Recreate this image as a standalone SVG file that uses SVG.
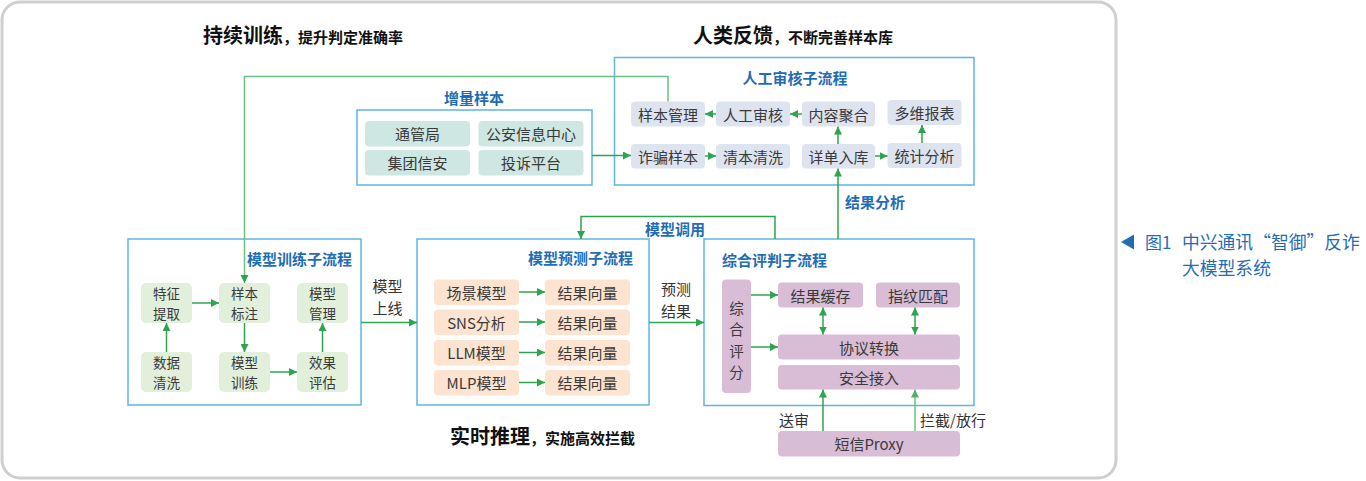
<svg xmlns="http://www.w3.org/2000/svg" width="1366" height="481" viewBox="0 0 1366 481">
<style>
text{font-family:"Noto Sans CJK SC","Noto Sans",sans-serif}
.frame{fill:#fff;stroke:#5db6e3;stroke-width:1.5}
.tr{fill:#e2efda}
.inc{fill:#cfe7e3}
.rev{fill:#dde3ef}
.pre{fill:#fce4d1}
.ev{fill:#d9bdd6}
.nt{font-size:15px;fill:#3a3a3a;text-anchor:middle;dominant-baseline:central}
.nt2{font-size:13.5px;fill:#3a3a3a;text-anchor:middle;dominant-baseline:central}
.nt3{font-size:14.5px;fill:#3a3a3a;text-anchor:middle;dominant-baseline:central}
.st{font-size:15px;font-weight:bold;fill:#1f6db5;dominant-baseline:central}
.lb{font-size:15px;fill:#333;dominant-baseline:central}
.big{font-weight:bold;fill:#111}
.c{fill:none;stroke:#2ea44f;stroke-width:1.5}
.cl{fill:none;stroke:#6cc083;stroke-width:1.5}
</style>
<defs>
<marker id="ah" viewBox="0 0 10 10" refX="10" refY="5" markerWidth="8" markerHeight="8" markerUnits="userSpaceOnUse" orient="auto-start-reverse"><path d="M0,0 L10,5 L0,10 z" fill="#2ea44f"/></marker>
<marker id="ahl" viewBox="0 0 10 10" refX="10" refY="5" markerWidth="8" markerHeight="8" markerUnits="userSpaceOnUse" orient="auto-start-reverse"><path d="M0,0 L10,5 L0,10 z" fill="#4fb269"/></marker>
</defs>
<rect x="2" y="2" width="1114" height="476" rx="18" fill="#fff" stroke="#cfcfcf" stroke-width="3"/>

<g id="titles">
<text x="203" y="43" class="big"><tspan font-size="20">持续训练</tspan><tspan font-size="15">，提升判定准确率</tspan></text>
<text x="693" y="43" class="big"><tspan font-size="20">人类反馈</tspan><tspan font-size="15">，不断完善样本库</tspan></text>
<text x="450" y="444" class="big"><tspan font-size="20">实时推理</tspan><tspan font-size="15">，实施高效拦截</tspan></text>
</g>

<g id="train-frame"><rect class="frame" x="128" y="239" width="233" height="166"/><text class="st" x="352" y="258" text-anchor="end">模型训练子流程</text></g>
<g id="pred-frame"><rect class="frame" x="417" y="239" width="232" height="166"/><text class="st" x="633" y="257" text-anchor="end">模型预测子流程</text></g>
<g id="eval-frame"><rect class="frame" x="704" y="239" width="270" height="166.5"/><text class="st" x="722" y="259">综合评判子流程</text></g>
<g id="inc-frame"><rect class="frame" x="357" y="110" width="235" height="75"/><text class="st" x="474" y="97" text-anchor="middle">增量样本</text></g>
<g id="rev-frame"><rect class="frame" x="614.5" y="57.5" width="359.5" height="127.5"/><text class="st" x="795" y="77" text-anchor="middle">人工审核子流程</text></g>

<g id="n-tezheng"><rect class="tr" x="141" y="283" width="51" height="40" rx="5"/><text class="nt2"><tspan x="166.5" y="293.2">特征</tspan><tspan x="166.5" y="312.8">提取</tspan></text></g>
<g id="n-biaozhu"><rect class="tr" x="219" y="283" width="51" height="40" rx="5"/><text class="nt2"><tspan x="244.5" y="293.2">样本</tspan><tspan x="244.5" y="312.8">标注</tspan></text></g>
<g id="n-guanli"><rect class="tr" x="297" y="283" width="51" height="40" rx="5"/><text class="nt2"><tspan x="322.5" y="293.2">模型</tspan><tspan x="322.5" y="312.8">管理</tspan></text></g>
<g id="n-qingxi"><rect class="tr" x="141" y="352" width="51" height="40" rx="5"/><text class="nt2"><tspan x="166.5" y="362.2">数据</tspan><tspan x="166.5" y="381.8">清洗</tspan></text></g>
<g id="n-xunlian"><rect class="tr" x="219" y="352" width="51" height="40" rx="5"/><text class="nt2"><tspan x="244.5" y="362.2">模型</tspan><tspan x="244.5" y="381.8">训练</tspan></text></g>
<g id="n-pinggu"><rect class="tr" x="297" y="352" width="51" height="40" rx="5"/><text class="nt2"><tspan x="322.5" y="362.2">效果</tspan><tspan x="322.5" y="381.8">评估</tspan></text></g>

<g id="n-tongguanju"><rect class="inc" x="365" y="121" width="105" height="25.5" rx="4"/><text class="nt" x="417.5" y="133.5">通管局</text></g>
<g id="n-gongan"><rect class="inc" x="478.5" y="121" width="105" height="25.5" rx="4"/><text class="nt" x="531" y="133.5">公安信息中心</text></g>
<g id="n-jituan"><rect class="inc" x="365" y="150" width="105" height="25.5" rx="4"/><text class="nt" x="417.5" y="162.5">集团信安</text></g>
<g id="n-tousu"><rect class="inc" x="478.5" y="150" width="105" height="25.5" rx="4"/><text class="nt" x="531" y="162.5">投诉平台</text></g>

<g id="n-ybgl"><rect class="rev" x="631" y="101.5" width="74" height="25" rx="4"/><text class="nt" x="668" y="114">样本管理</text></g>
<g id="n-rgsh"><rect class="rev" x="716" y="101.5" width="74" height="25" rx="4"/><text class="nt" x="753" y="114">人工审核</text></g>
<g id="n-nrjh"><rect class="rev" x="802" y="101.5" width="73" height="25" rx="4"/><text class="nt" x="838.5" y="114">内容聚合</text></g>
<g id="n-dwbb"><rect class="rev" x="887.5" y="100" width="74" height="25" rx="4"/><text class="nt" x="924.5" y="112.5">多维报表</text></g>
<g id="n-zpyb"><rect class="rev" x="631" y="144" width="74" height="24.5" rx="4"/><text class="nt" x="668" y="156">诈骗样本</text></g>
<g id="n-qbqx"><rect class="rev" x="716" y="144" width="74" height="24.5" rx="4"/><text class="nt" x="753" y="156">清本清洗</text></g>
<g id="n-xdrk"><rect class="rev" x="802" y="144" width="73" height="24.5" rx="4"/><text class="nt" x="838.5" y="156">详单入库</text></g>
<g id="n-tjfx"><rect class="rev" x="887.5" y="143" width="74" height="25" rx="4"/><text class="nt" x="924.5" y="155.5">统计分析</text></g>

<g id="n-cjmx"><rect class="pre" x="434" y="279.5" width="85" height="25.5" rx="4"/><text class="nt" x="476.5" y="292">场景模型</text></g>
<g id="n-sns"><rect class="pre" x="434" y="309.5" width="85" height="25.5" rx="4"/><text class="nt" x="476.5" y="322">SNS分析</text></g>
<g id="n-llm"><rect class="pre" x="434" y="340" width="85" height="25.5" rx="4"/><text class="nt" x="476.5" y="352.5">LLM模型</text></g>
<g id="n-mlp"><rect class="pre" x="434" y="370" width="85" height="25.5" rx="4"/><text class="nt" x="476.5" y="382.5">MLP模型</text></g>
<g id="n-v1"><rect class="pre" x="545" y="279.5" width="85" height="25.5" rx="4"/><text class="nt" x="587.5" y="292">结果向量</text></g>
<g id="n-v2"><rect class="pre" x="545" y="309.5" width="85" height="25.5" rx="4"/><text class="nt" x="587.5" y="322">结果向量</text></g>
<g id="n-v3"><rect class="pre" x="545" y="340" width="85" height="25.5" rx="4"/><text class="nt" x="587.5" y="352.5">结果向量</text></g>
<g id="n-v4"><rect class="pre" x="545" y="370" width="85" height="25.5" rx="4"/><text class="nt" x="587.5" y="382.5">结果向量</text></g>

<g id="n-zhpf"><rect class="ev" x="722" y="279.5" width="29" height="113.5" rx="4"/><text class="nt3"><tspan x="736.5" y="307.2">综</tspan><tspan x="736.5" y="328.4">合</tspan><tspan x="736.5" y="349.6">评</tspan><tspan x="736.5" y="370.8">分</tspan></text></g>
<g id="n-jghc"><rect class="ev" x="778" y="282.5" width="85" height="25" rx="4"/><text class="nt" x="820.5" y="295">结果缓存</text></g>
<g id="n-zwpp"><rect class="ev" x="876" y="282.5" width="84" height="25" rx="4"/><text class="nt" x="918" y="295">指纹匹配</text></g>
<g id="n-xyzh"><rect class="ev" x="778" y="334.5" width="182" height="25" rx="4"/><text class="nt" x="869" y="347">协议转换</text></g>
<g id="n-aqjr"><rect class="ev" x="778" y="365" width="182" height="24.5" rx="4"/><text class="nt" x="869" y="377.5">安全接入</text></g>
<g id="n-proxy"><rect class="ev" x="778" y="431" width="182" height="25.5" rx="4"/><text class="nt" x="869" y="443.5">短信Proxy</text></g>

<g id="connectors">
<path class="c" d="M192,303 H219" marker-end="url(#ah)"/>
<path class="c" d="M166.5,352 V323" marker-end="url(#ah)"/>
<path class="c" d="M244.5,323 V352" marker-end="url(#ah)"/>
<path class="c" d="M270,372 H297" marker-end="url(#ah)"/>
<path class="c" d="M322.5,352 V323" marker-end="url(#ah)"/>
<path class="cl" d="M668,101.5 V76.5 H244.5 V283" marker-end="url(#ah)"/>
<path class="c" d="M361,322.5 H417" marker-end="url(#ah)"/>
<path class="c" d="M519,292 H545" marker-end="url(#ah)"/>
<path class="c" d="M519,322 H545" marker-end="url(#ah)"/>
<path class="c" d="M519,352.5 H545" marker-end="url(#ah)"/>
<path class="c" d="M519,382.5 H545" marker-end="url(#ah)"/>
<path class="c" d="M649,322.5 H704" marker-end="url(#ah)"/>
<path class="c" d="M775,239 V216.5 H581 V239" marker-end="url(#ah)"/>
<path class="c" d="M592,155.5 H631" marker-end="url(#ah)"/>
<path class="c" d="M716,114 H705" marker-end="url(#ah)"/>
<path class="c" d="M802,114 H790" marker-end="url(#ah)"/>
<path class="c" d="M705,156 H716" marker-end="url(#ah)"/>
<path class="c" d="M875,156 H887.5" marker-end="url(#ah)"/>
<path class="c" d="M838,144 V126.5" marker-end="url(#ah)"/>
<path class="c" d="M922,143 V125" marker-end="url(#ah)"/>
<path class="c" d="M838,239 V168.5" marker-end="url(#ah)"/>
<path class="c" d="M751,295 H778" marker-end="url(#ah)"/>
<path class="c" d="M751,347 H778" marker-end="url(#ah)"/>
<path class="c" d="M823,307.5 V334.5" marker-start="url(#ah)" marker-end="url(#ah)"/>
<path class="c" d="M915,307.5 V334.5" marker-start="url(#ah)" marker-end="url(#ah)"/>
<path class="c" d="M823,431 V389.5" marker-end="url(#ah)"/>
<path class="cl" d="M915,431 V389.5" marker-end="url(#ahl)"/>
</g>

<g id="labels">
<text class="lb" text-anchor="middle"><tspan x="387.5" y="285">模型</tspan><tspan x="387.5" y="307">上线</tspan></text>
<text class="lb" text-anchor="middle"><tspan x="676" y="288">预测</tspan><tspan x="676" y="310">结果</tspan></text>
<text class="st" x="645" y="228">模型调用</text>
<text class="st" x="845" y="201.5">结果分析</text>
<text class="lb" x="779" y="419">送审</text>
<text class="lb" x="920" y="419">拦截/放行</text>
</g>

<g id="caption" fill="#1f6db5">
<path d="M1121,242 L1134,234.5 L1134,249.5 z"/>
<text x="1145" y="241" font-size="17" fill="#1f6db5" dominant-baseline="central">图1</text>
<text font-size="17.8" fill="#1f6db5" dominant-baseline="central"><tspan x="1182" y="241">中兴通讯“智御”反诈</tspan><tspan x="1182" y="267">大模型系统</tspan></text>
</g>
</svg>
